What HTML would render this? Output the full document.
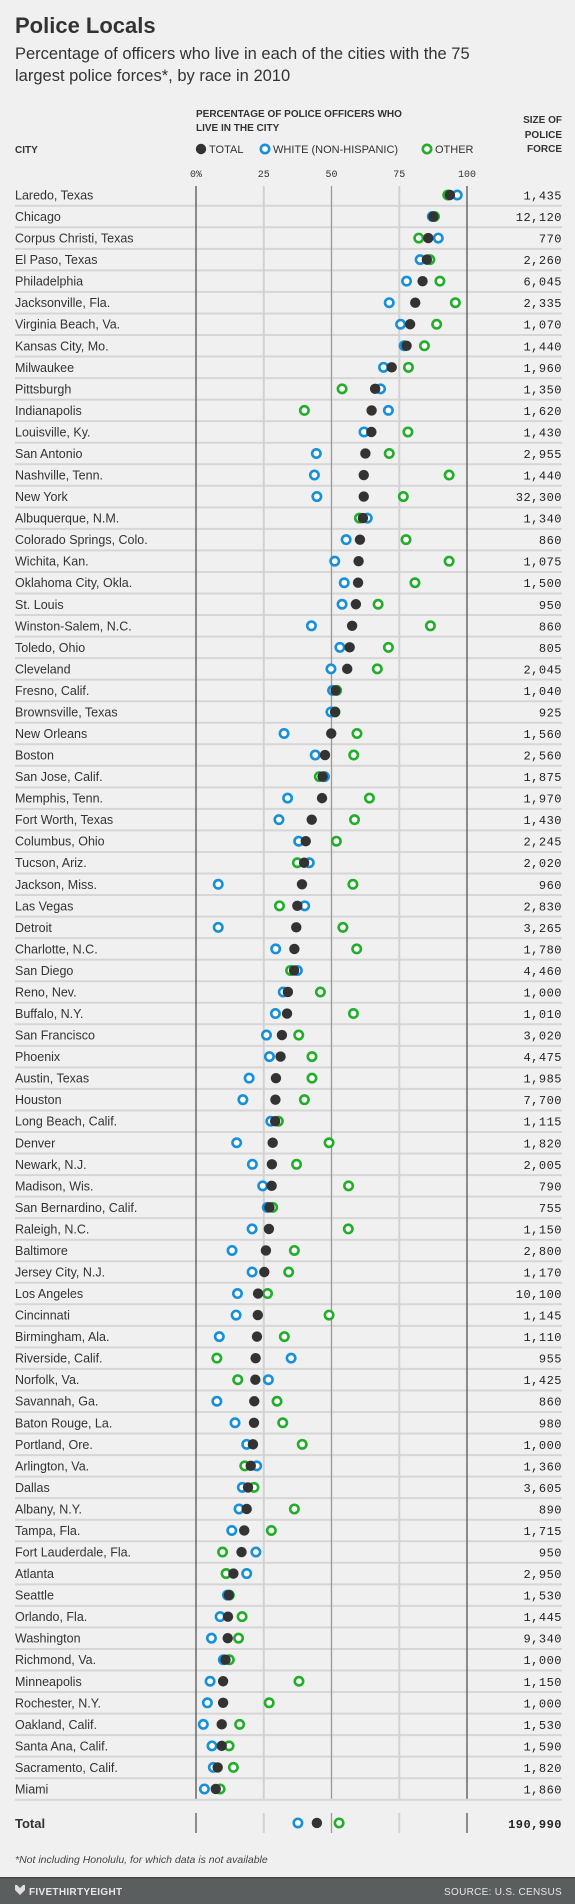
<!DOCTYPE html>
<html><head><meta charset="utf-8">
<style>
html,body{margin:0;padding:0;background:#f0f0f0;}
body{width:575px;height:1904px;overflow:hidden;position:relative;font-family:"Liberation Sans",sans-serif;}
svg{position:absolute;left:0;top:0;}
</style></head>
<body>
<svg id="chart" width="575" height="1904"></svg>
<script>
const cities=["Laredo, Texas","Chicago","Corpus Christi, Texas","El Paso, Texas","Philadelphia","Jacksonville, Fla.","Virginia Beach, Va.","Kansas City, Mo.","Milwaukee","Pittsburgh","Indianapolis","Louisville, Ky.","San Antonio","Nashville, Tenn.","New York","Albuquerque, N.M.","Colorado Springs, Colo.","Wichita, Kan.","Oklahoma City, Okla.","St. Louis","Winston-Salem, N.C.","Toledo, Ohio","Cleveland","Fresno, Calif.","Brownsville, Texas","New Orleans","Boston","San Jose, Calif.","Memphis, Tenn.","Fort Worth, Texas","Columbus, Ohio","Tucson, Ariz.","Jackson, Miss.","Las Vegas","Detroit","Charlotte, N.C.","San Diego","Reno, Nev.","Buffalo, N.Y.","San Francisco","Phoenix","Austin, Texas","Houston","Long Beach, Calif.","Denver","Newark, N.J.","Madison, Wis.","San Bernardino, Calif.","Raleigh, N.C.","Baltimore","Jersey City, N.J.","Los Angeles","Cincinnati","Birmingham, Ala.","Riverside, Calif.","Norfolk, Va.","Savannah, Ga.","Baton Rouge, La.","Portland, Ore.","Arlington, Va.","Dallas","Albany, N.Y.","Tampa, Fla.","Fort Lauderdale, Fla.","Atlanta","Seattle","Orlando, Fla.","Washington","Richmond, Va.","Minneapolis","Rochester, N.Y.","Oakland, Calif.","Santa Ana, Calif.","Sacramento, Calif.","Miami"];
const totalPct=[93.7,87.6,85.7,85.2,83.6,80.9,79,77.7,72.2,66.1,64.8,64.7,62.5,61.9,61.9,61.6,60.5,60,59.8,59,57.6,56.7,55.8,51.5,51.3,49.9,47.6,46.7,46.5,42.7,40.5,39.9,39.1,37.4,37,36.3,36.2,33.9,33.6,31.7,31.2,29.5,29.3,29.2,28.3,28,27.9,27.1,26.9,25.8,25.2,22.9,22.8,22.5,22,21.9,21.5,21.4,21,20.2,19.2,18.7,17.8,16.8,13.8,12.1,11.8,11.7,10.9,10,10,9.5,9.5,8,7.3];
const whitePct=[96.4,87.2,89.4,82.7,77.7,71.3,75.5,76.8,69.2,68.1,71,62,44.4,43.7,44.6,63.2,55.4,51.2,54.7,53.9,42.6,53.1,49.8,50.4,49.8,32.5,44,47.4,33.8,30.6,37.9,41.8,8.2,40.1,8.2,29.4,37.4,32.2,29.3,26,27.1,19.6,17.3,27.6,15,20.8,24.6,26.3,20.7,13.3,20.7,15.3,14.8,8.6,35.1,26.7,7.7,14.4,18.7,22.4,17.1,15.9,13.2,22.1,18.7,11.6,8.9,5.7,10.1,5.2,4.2,2.7,5.9,6.4,3.1];
const otherPct=[92.9,88,82.2,86.3,90,95.7,88.8,84.3,78.4,53.9,40,78.2,71.3,93.4,76.5,60.3,77.5,93.4,80.8,67.2,86.5,71,66.9,51.9,51.3,59.4,58.2,45.5,64,58.5,51.8,37.4,57.9,30.8,54.2,59.3,34.9,45.9,58.1,37.9,42.8,42.8,40,30.4,49.1,37.1,56.3,28.3,56.2,36.3,34.2,26.4,49.1,32.6,7.7,15.4,29.9,32,39.2,18,21.4,36.3,27.8,9.8,11.1,12.3,17,15.7,12.3,38,27,16.1,12.2,13.8,8.9];
const sizes=["1,435","12,120","770","2,260","6,045","2,335","1,070","1,440","1,960","1,350","1,620","1,430","2,955","1,440","32,300","1,340","860","1,075","1,500","950","860","805","2,045","1,040","925","1,560","2,560","1,875","1,970","1,430","2,245","2,020","960","2,830","3,265","1,780","4,460","1,000","1,010","3,020","4,475","1,985","7,700","1,115","1,820","2,005","790","755","1,150","2,800","1,170","10,100","1,145","1,110","955","1,425","860","980","1,000","1,360","3,605","890","1,715","950","2,950","1,530","1,445","9,340","1,000","1,150","1,000","1,530","1,590","1,820","1,860"];
const totalRow={total:44.6,white:37.6,other:52.8,size:"190,990"};
const ticks=[0,25,50,75,100];
const tickLabels=["0%","25","50","75","100"];

const NS="http://www.w3.org/2000/svg";
const svg=document.getElementById('chart');
const X0=196,X1=467,Y0=195,PITCH=21.54;
function xs(v){return X0+(X1-X0)*v/100;}
function ys(i){return Y0+PITCH*i;}
function mk(tag,attrs,parent){const e=document.createElementNS(NS,tag);for(const k in attrs)e.setAttribute(k,attrs[k]);(parent||svg).appendChild(e);return e;}
function txt(s,x,y,attrs){const e=mk('text',Object.assign({x:x,y:y},attrs));e.textContent=s;return e;}

// header
let t=txt("Police Locals",15,33,{'font-size':'22','font-weight':'bold',fill:'#333'});


t=txt("Percentage of officers who live in each of the cities with the 75",15,59,{'font-size':'16.5',fill:'#333'});


t=txt("largest police forces*, by race in 2010",15,81,{'font-size':'16.5',fill:'#333'});


t=txt("PERCENTAGE OF POLICE OFFICERS WHO",196,117,{'font-size':'10','font-weight':'bold',fill:'#333'});


t=txt("LIVE IN THE CITY",196,131,{'font-size':'10','font-weight':'bold',fill:'#333'});


t=txt("CITY",15,153,{'font-size':'10','font-weight':'bold',fill:'#333'});


[["SIZE OF",123],["POLICE",138],["FORCE",152]].forEach((p,k)=>{
  const e=txt(p[0],562,p[1],{'font-size':'10','font-weight':'bold',fill:'#333','text-anchor':'end'});
  
  
});
// legend
function ring(cx,cy,color,parent){return mk('circle',{cx:cx,cy:cy,r:4.2,fill:'#fff',stroke:color,'stroke-width':2.6},parent);}
function dot(cx,cy,parent){return mk('circle',{cx:cx,cy:cy,r:5.2,fill:'#333'},parent);}
const BLUE='#1790d8',GREEN='#22ad2b';
let lg=mk('g',{});


dot(201,149,lg);txt("TOTAL",209,153,{'font-size':'11',fill:'#333'}).remove();
lg.appendChild(txt("TOTAL",209,153,{'font-size':'11',fill:'#333'}));
lg=mk('g',{});


ring(265,149,BLUE,lg);lg.appendChild(txt("WHITE (NON-HISPANIC)",273,153,{'font-size':'11',fill:'#333'}));
lg=mk('g',{});


ring(427,149,GREEN,lg);lg.appendChild(txt("OTHER",435,153,{'font-size':'11',fill:'#333'}));

// tick labels
ticks.forEach((v,k)=>{
  const e=txt(tickLabels[k],xs(v),177,{'font-size':'10','font-family':'Liberation Mono, monospace',fill:'#333','text-anchor':'middle'});
  
  
});
// row separators
const n=cities.length;
for(let i=0;i<n;i++){
  const y=ys(i)+PITCH/2;
  const l=mk('line',{x1:15,x2:562,y1:y,y2:y,stroke:'#d6d6d6','stroke-width':2});
  
  
}
// axis lines
const yTop=186,yBot=ys(n-1)+PITCH/2-1,ty=ys(n-1)+34;
ticks.forEach(v=>{
  const c=(v===0||v===100)?'#555':(v===50?'#999':'#d2d2d2');
  const w=(v===0||v===100||v===50)?1.3:2;
  let l=mk('line',{x1:xs(v),x2:xs(v),y1:yTop,y2:yBot,stroke:c,'stroke-width':w});
  
  
  l=mk('line',{x1:xs(v),x2:xs(v),y1:ty-10,y2:ty+10,stroke:c,'stroke-width':w});
  
  
});
// rows
for(let i=0;i<n;i++){
  const y=ys(i);
  const g=mk('g',{});
  
  
  g.appendChild(txt(cities[i],15,y+4.5,{'font-size':'12.5',fill:'#333'}));
  g.appendChild(txt(sizes[i],562,y+4.5,{'font-size':'12','font-family':'Liberation Mono, monospace',fill:'#222','text-anchor':'end','letter-spacing':'0.5'}));
  const go=ring(xs(otherPct[i]),y,GREEN,g);
  
  
  const gw=ring(xs(whitePct[i]),y,BLUE,g);
  
  
  const gt=dot(xs(totalPct[i]),y,g);
  
  
}
// total row
const tg=mk('g',{});


tg.appendChild(txt("Total",15,ty+5,{'font-size':'13','font-weight':'bold',fill:'#333'}));
tg.appendChild(txt(totalRow.size,562,ty+5,{'font-size':'12','font-weight':'bold','font-family':'Liberation Mono, monospace',fill:'#222','text-anchor':'end','letter-spacing':'0.5'}));
let tp=ring(xs(totalRow.white),ty,BLUE,tg);


tp=dot(xs(totalRow.total),ty,tg);


tp=ring(xs(totalRow.other),ty,GREEN,tg);


// footnote
t=txt("*Not including Honolulu, for which data is not available",15,1863,{'font-size':'10.5','font-style':'italic',fill:'#444'});


// footer
const fb=mk('rect',{x:0,y:1877,width:575,height:27,fill:'#5b5e5f'});


mk('rect',{x:0,y:1877,width:575,height:1.5,fill:'#444'});
const logo=mk('path',{d:'M15 1885 l2 0 l3 3 l3 -3 l2 0 l0 5 l-5 5 l-5 -5 z',fill:'#ddd'});


t=txt("FIVETHIRTYEIGHT",29,1895,{'font-size':'10','font-weight':'bold',fill:'#e6e6e6','letter-spacing':'0.3'});


t=txt("SOURCE: U.S. CENSUS",562,1895,{'font-size':'10',fill:'#e6e6e6','text-anchor':'end','letter-spacing':'0.3'});


</script>
</body></html>
